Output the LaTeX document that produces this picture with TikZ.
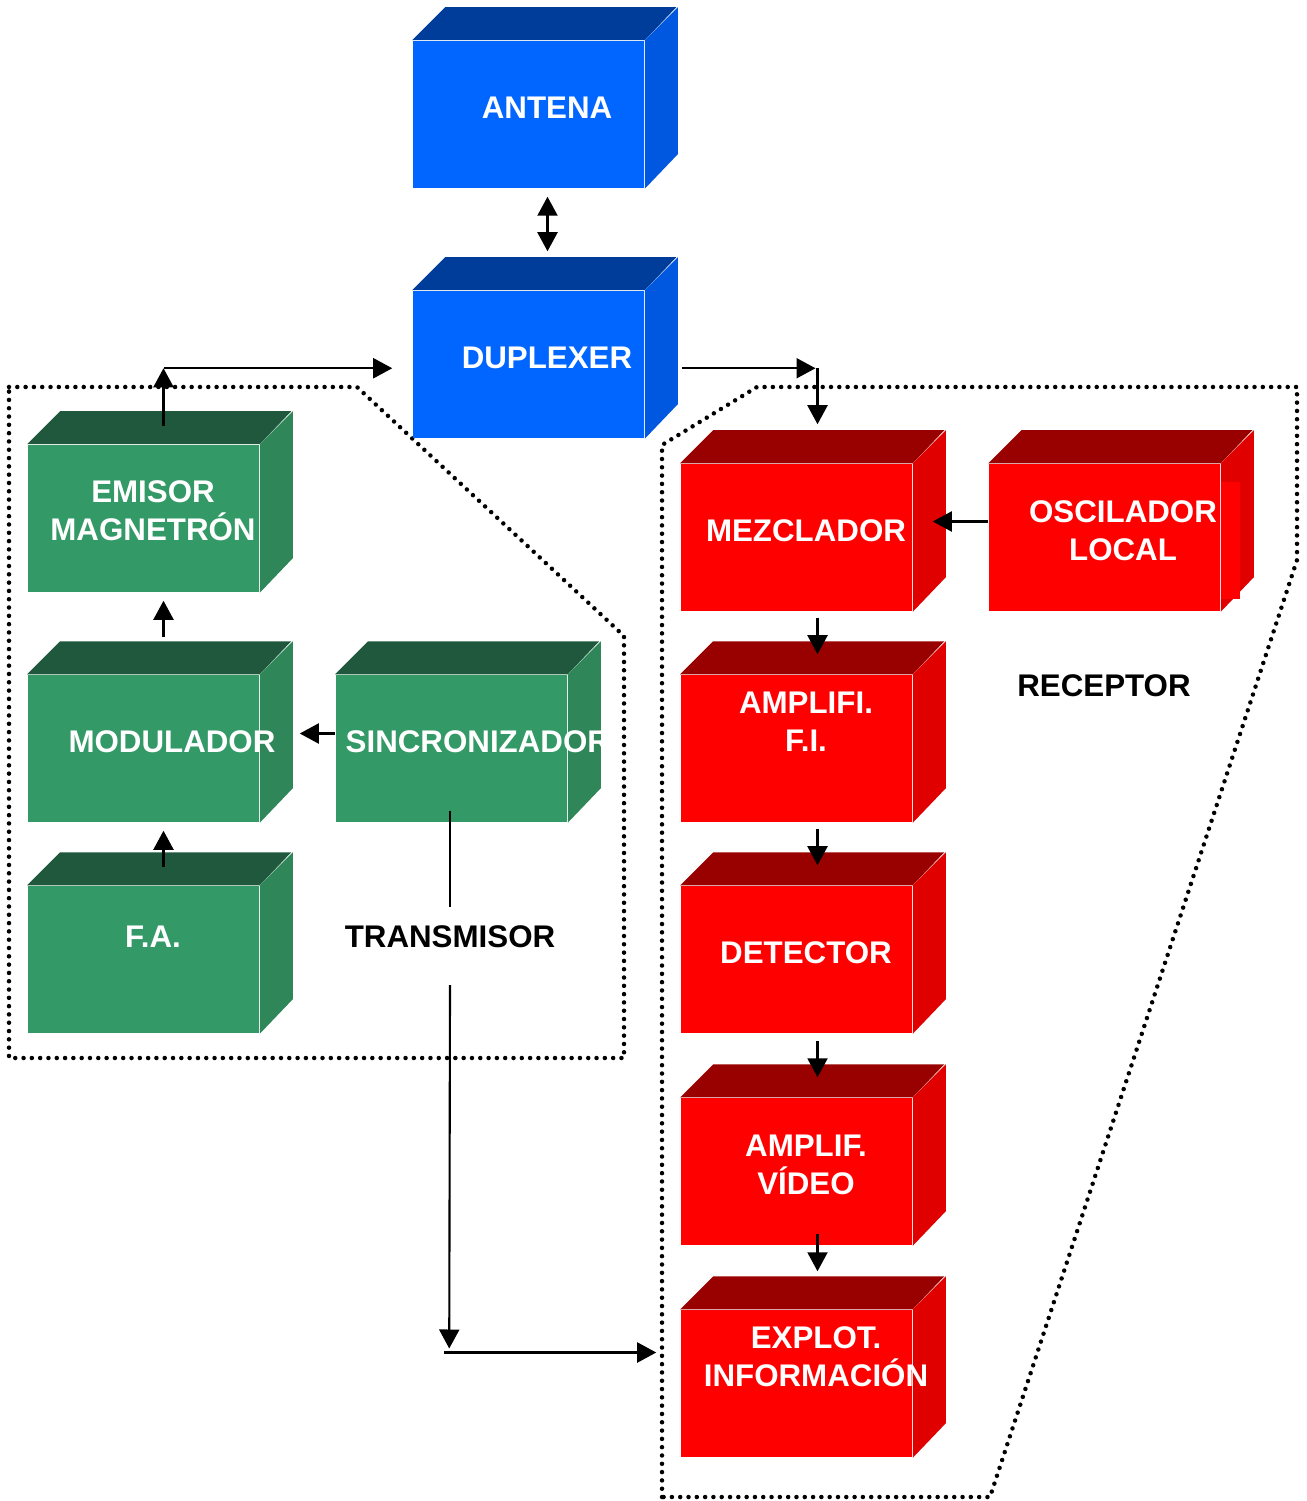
\documentclass[tikz,border=0pt]{standalone}
\usepackage{fontspec}
\setmainfont{Liberation Sans}
\usetikzlibrary{arrows.meta,calc}

\definecolor{azulfrente}{HTML}{0066FF}
\definecolor{azultapa}{HTML}{003C9A}
\definecolor{azullado}{HTML}{0058E0}
\definecolor{verdefrente}{HTML}{339966}
\definecolor{verdetapa}{HTML}{1F583C}
\definecolor{verdelado}{HTML}{2E8659}
\definecolor{rojofrente}{HTML}{FF0000}
\definecolor{rojotapa}{HTML}{990000}
\definecolor{rojolado}{HTML}{E00000}

\tikzset{
  caja/.style={rectangle,minimum width=2.31cm,minimum height=1.47cm,inner sep=0pt,draw=none},
  etiq/.style={text=white,font=\bfseries\fontsize{8.9}{10.8}\selectfont,align=center,inner sep=0pt},
  titulo/.style={text=black,font=\bfseries\fontsize{8.9}{10.8}\selectfont,inner sep=0pt},
  flecha/.style={line width=0.6pt,-{Triangle[width=0.2cm,length=0.19cm]}},
  dobleflecha/.style={line width=0.6pt,{Triangle[width=0.2cm,length=0.19cm]}-{Triangle[width=0.2cm,length=0.19cm]}},
  linea/.style={line width=0.6pt},
  punteado/.style={line width=0.045cm,dash pattern=on 0pt off 0.083cm,line cap=round}
}

% tapa y lado de cada caja
\newcommand\caras[3]{%
  \fill[#2] (#1.north west) -- ++(33,-33) -- ++(231,0) -- (#1.north east) -- cycle;
  \fill[#3] (#1.north east) -- ++(33,-33) -- ++(0,147) -- (#1.south east) -- cycle;}

\begin{document}
\begin{tikzpicture}[x=0.01cm,y=-0.01cm]
\useasboundingbox (0,0) rectangle (1307,1501);

% zonas punteadas
\draw[punteado] (9,387) -- (357,387) -- (624,636) -- (624,1058) -- (9,1058) -- cycle;
\draw[punteado] (662,1497) -- (662,445) -- (757,387) -- (1297,387) -- (1297,560) -- (990,1497) -- cycle;

% caras frontales
\node[caja,fill=azulfrente] (antena) at (528.5,114.5) {};
\node[caja,fill=azulfrente] (duplexer) at (528.5,364.5) {};
\node[caja,fill=verdefrente] (emisor) at (143.5,518.5) {};
\node[caja,fill=verdefrente] (modulador) at (143.5,748.5) {};
\node[caja,fill=verdefrente] (fa) at (143.5,959.5) {};
\node[caja,fill=verdefrente] (sincro) at (451.5,748.5) {};
\node[caja,fill=rojofrente] (mezclador) at (796.5,537.5) {};
\node[caja,fill=rojofrente] (oscilador) at (1104.5,537.5) {};
\node[caja,fill=rojofrente] (amplifi) at (796.5,748.5) {};
\node[caja,fill=rojofrente] (detector) at (796.5,959.5) {};
\node[caja,fill=rojofrente] (video) at (796.5,1171.5) {};
\node[caja,fill=rojofrente] (explot) at (796.5,1383.5) {};

\foreach \n in {antena,duplexer} {\caras{\n}{azultapa}{azullado}}
\foreach \n in {emisor,modulador,fa,sincro} {\caras{\n}{verdetapa}{verdelado}}
\foreach \n in {mezclador,oscilador,amplifi,detector,video,explot} {\caras{\n}{rojotapa}{rojolado}}
\fill[rojofrente] ($(oscilador.north east)+(0,19)$) rectangle ($(oscilador.south east)+(19,-13)$);

% textos
\node[etiq] (tantena) at (547,108) {ANTENA};
\node[etiq] (tduplexer) at (547,358) {DUPLEXER};
\node[etiq] (temisor) at (153,511) {EMISOR\\MAGNETRÓN};
\node[etiq] (tmodulador) at (172,742) {MODULADOR};
\node[etiq] (tfa) at (153,937) {F.A.};
\begin{scope}
  \clip (336,600) rectangle (600,830);
  \node[etiq,anchor=west] (tsincro) at (345,742) {SINCRONIZADOR};
\end{scope}
\node[etiq] (tmezclador) at (806,531) {MEZCLADOR};
\node[etiq] (toscilador) at (1123,531) {OSCILADOR\\LOCAL};
\node[etiq] (tamplifi) at (806,722) {AMPLIFI.\\F.I.};
\node[etiq] (tdetector) at (806,953) {DETECTOR};
\node[etiq] (tvideo) at (806,1165) {AMPLIF.\\VÍDEO};
\node[etiq] (texplot) at (816,1357) {EXPLOT.\\INFORMACIÓN};
\node[titulo] (transmisor) at (450,937) {TRANSMISOR};
\node[titulo] (receptor) at (1104,686) {RECEPTOR};

% conexiones
\coordinate (esqemisor) at ($(emisor.north)+(20,-76)$);
\coordinate (esqduplexer) at ($(mezclador.north)+(21,-95)$);
\coordinate (esqsincro) at ($(explot.west)+(-231,-31)$);

\draw[dobleflecha] ($(antena.south)+(19,8)$) -- ($(duplexer.north)+(19,-39)$);
\draw[flecha] ($(emisor.north)+(20,-18)$) -- (esqemisor);
\draw[flecha] (esqemisor) -- ($(esqemisor -| duplexer.west)+(-20,0)$);
\draw[flecha] ($(esqduplexer -| duplexer.east)+(37,0)$) -- ($(esqduplexer)+(-2,0)$);
\draw[flecha] (esqduplexer) -- ($(mezclador.north)+(21,-39)$);
\draw[flecha] ($(modulador.north)+(20,-37)$) -- ($(emisor.south)+(20,8)$);
\draw[flecha] ($(fa.north)+(20,-18)$) -- ($(modulador.south)+(20,8)$);
\draw[flecha] ($(sincro.west)+(0,-15)$) -- ($(modulador.east)+(40,-15)$);
\draw[flecha] ($(oscilador.west)+(0,-16)$) -- ($(mezclador.east)+(20,-16)$);
\draw[flecha] ($(mezclador.south)+(21,6)$) -- ($(amplifi.north)+(21,-20)$);
\draw[flecha] ($(amplifi.south)+(21,6)$) -- ($(detector.north)+(21,-20)$);
\draw[flecha] ($(detector.south)+(21,7)$) -- ($(video.north)+(21,-20)$);
\draw[flecha] ($(video.south)+(21,-12)$) -- ($(explot.north)+(21,-38)$);
\draw[linea] ($(transmisor |- sincro.south)+(0,-12)$) -- ($(transmisor.center)+(0,-30)$);
\draw[flecha] ($(transmisor.center)+(0,48)$) -- ($(esqsincro)+(0,-4)$);
\draw[flecha] ($(esqsincro)+(-5,0)$) -- ($(explot.west)+(-24,-31)$);
\end{tikzpicture}
\end{document}
